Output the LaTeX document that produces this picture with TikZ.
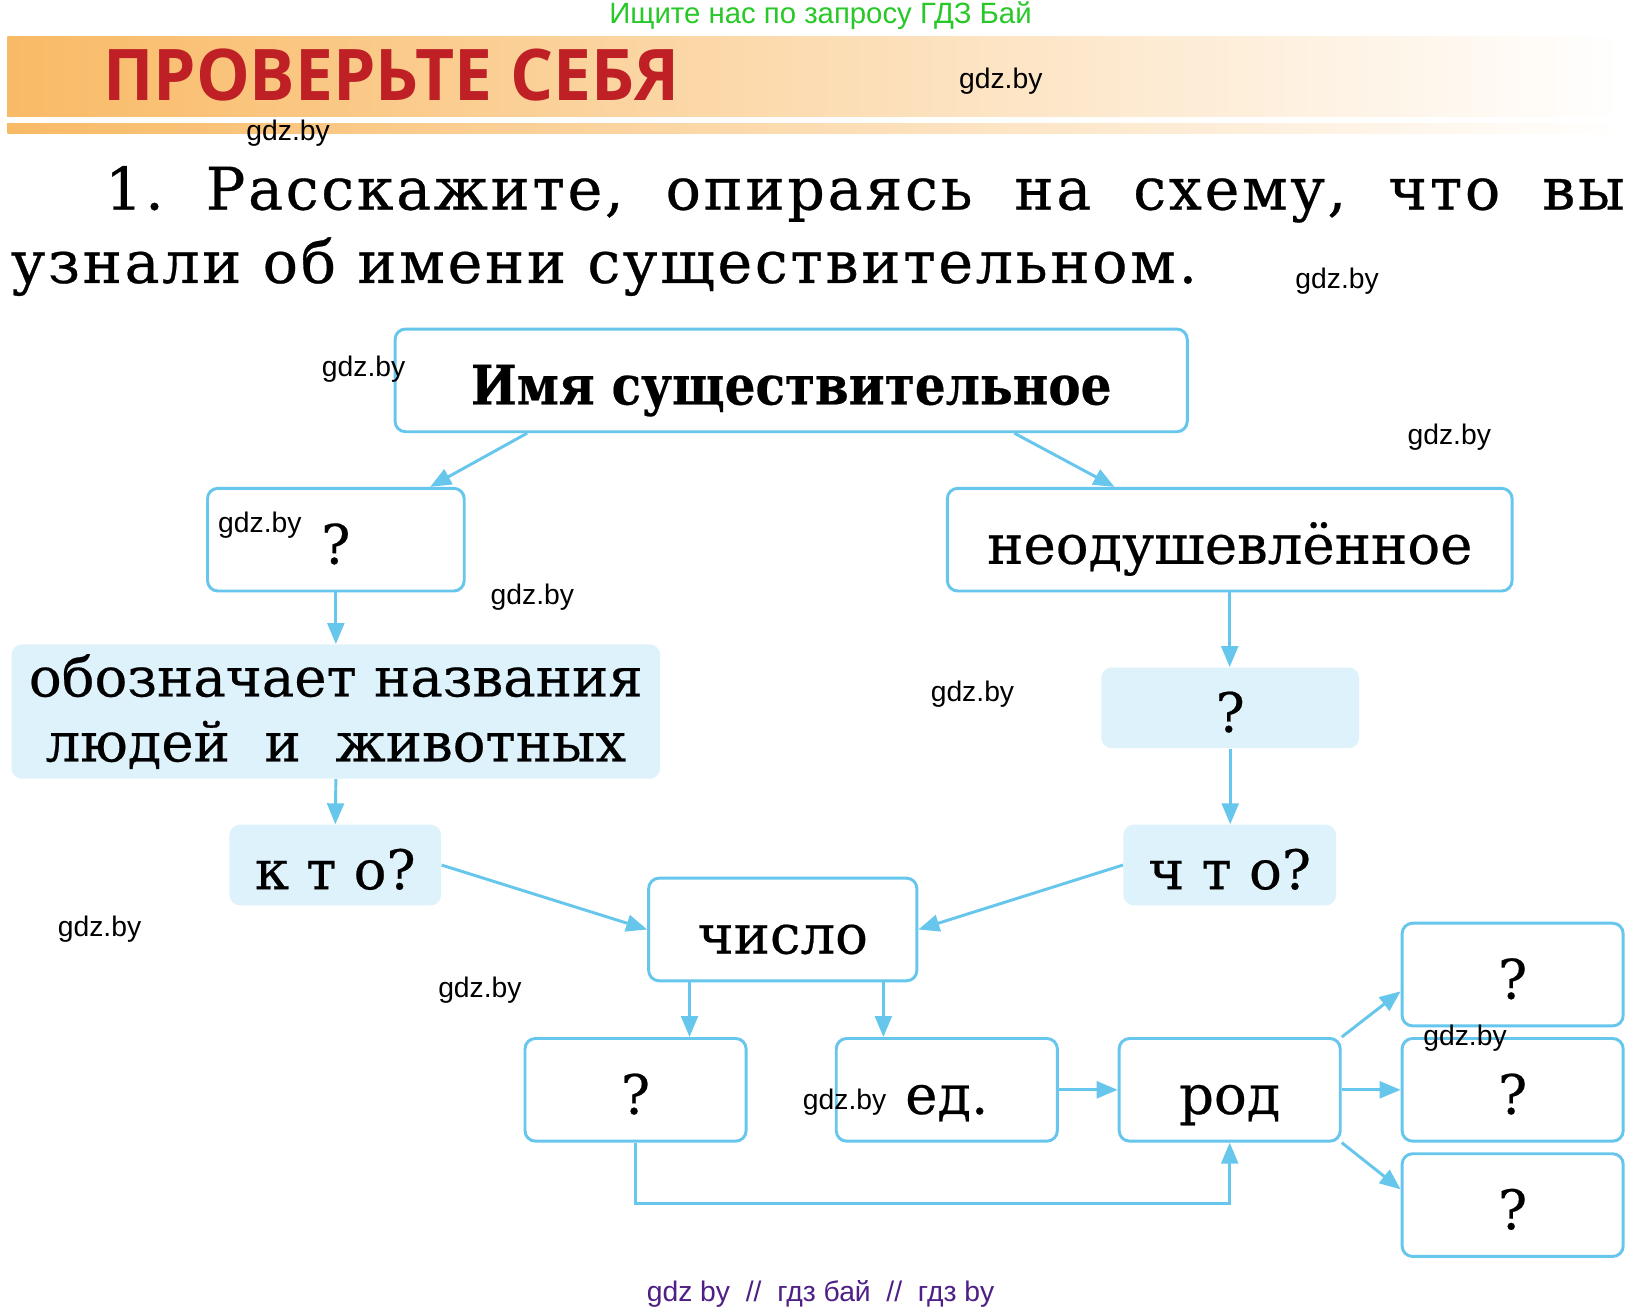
\documentclass[tikz,border=0pt]{standalone}
\usepackage{fontspec}
\usepackage{tikz}
\usetikzlibrary{arrows.meta}
\setmainfont{DejaVu Serif}
\newfontfamily\wmfont{Liberation Sans}
\newfontfamily\headfont{Open Sans}
\newfontfamily\titlefont[LetterSpace=4.6,FakeBold=0.5]{DejaVu Serif}
\newfontfamily\schemefont[FakeBold=0.4]{DejaVu Serif}
\definecolor{skyline}{RGB}{103,198,236}
\definecolor{skyfill}{RGB}{222,242,252}
\definecolor{banner}{RGB}{249,186,102}
\definecolor{headred}{RGB}{190,32,38}
\definecolor{searchgreen}{RGB}{40,200,40}
\definecolor{footviolet}{RGB}{78,31,133}
\frenchspacing

\begin{document}
\begin{tikzpicture}[x=0.5pt,y=-0.5pt]
\tikzstyle{emptybox}=[draw=skyline,line width=1.4pt,rounded corners=5pt,fill=white,inner sep=0pt,text height=24pt,text depth=1pt,font=\schemefont\fontsize{26}{31}\selectfont]
\tikzstyle{bluebox}=[fill=skyfill,rounded corners=5pt,inner sep=0pt,align=center,font=\schemefont\fontsize{26}{31}\selectfont]
\tikzstyle{oneline}=[text height=24pt,text depth=1pt]
\tikzstyle{arr}=[draw=skyline,line width=1.4pt,-{Triangle[length=10pt,width=8pt]}]
\tikzstyle{wm}=[inner sep=0pt,font=\wmfont\fontsize{13.5}{15}\selectfont]
\useasboundingbox[fill=white] (0,0) rectangle (1566,1252);

% header
\node[wm,text=searchgreen,font=\wmfont\fontsize{14}{15}\selectfont] (search) at (783,15) {Ищите нас по запросу ГДЗ Бай};
\fill[left color=banner,right color=white] (7,35) rectangle (1550,127);
\fill[white] (7,112) rectangle (1550,117);
\node[anchor=west,inner sep=0pt,text=headred,font=\headfont\bfseries\fontsize{34}{36}\selectfont] (head) at (98,72) {\scalebox{0.95}[1]{ПРОВЕРЬТЕ СЕБЯ}};
\node[anchor=base west,inner sep=0pt,font=\titlefont\fontsize{28}{34}\selectfont] (task1) at (100,200) {\hbox to 725pt{1. Расскажите, опираясь на схему, что вы}};
\node[anchor=base west,inner sep=0pt,font=\titlefont\fontsize{28}{34}\selectfont] (task2) at (10,270) {узнали об имени существительном.};

% scheme
\node[emptybox,minimum width=378pt,minimum height=49pt,font=\schemefont\bfseries\fontsize{26}{31}\selectfont] (noun) at (755,363) {\scalebox{0.89}[1]{Имя существительное}};
\node[emptybox,minimum width=122.5pt,minimum height=49pt] (anim) at (320.5,515) {?};
\node[emptybox,minimum width=269.5pt,minimum height=49pt] (inanim) at (1173.5,515) {неодушевлённое};
\node[bluebox,minimum width=309.5pt,minimum height=64pt] (means) at (320.5,679) {обозначает названия\\людей \ и \ животных};
\node[bluebox,oneline,minimum width=123pt,minimum height=38.5pt] (meansb) at (1174,675.5) {?};
\node[bluebox,oneline,minimum width=101pt,minimum height=38.5pt] (who) at (320,825.5) {к т о?};
\node[bluebox,oneline,minimum width=101.5pt,minimum height=38.5pt] (what) at (1173.5,825.5) {ч т о?};
\node[emptybox,minimum width=128pt,minimum height=49pt] (number) at (747,887) {число};
\node[emptybox,minimum width=105.5pt,minimum height=49pt] (plural) at (606.5,1040) {?};
\node[emptybox,minimum width=105.5pt,minimum height=49pt] (sing) at (903.5,1040) {ед.};
\node[emptybox,minimum width=105.5pt,minimum height=49pt] (gender) at (1173.5,1040) {род};
\node[emptybox,minimum width=105.5pt,minimum height=49pt] (gen1) at (1443.5,930) {?};
\node[emptybox,minimum width=105.5pt,minimum height=49pt] (gen2) at (1443.5,1040) {?};
\node[emptybox,minimum width=105.5pt,minimum height=49pt] (gen3) at (1443.5,1150) {?};

\draw[arr] ([xshift=-126pt]noun.south) -- ([xshift=45pt]anim.north);
\draw[arr] ([xshift=106.5pt]noun.south) -- ([xshift=-55pt]inanim.north);
\draw[arr] (anim.south) -- (anim.south |- means.north);
\draw[arr] (inanim.south) -- (inanim.south |- meansb.north);
\draw[arr] (means.south) -- (who.north);
\draw[arr] (meansb.south) -- (meansb.south |- what.north);
\draw[arr] (who.east) -- (number.west);
\draw[arr] (what.west) -- (number.east);
\draw[arr] ([xshift=-44.5pt]number.south) -- ([xshift=-44.5pt]number.south |- plural.north);
\draw[arr] ([xshift=48pt]number.south) -- ([xshift=48pt]number.south |- sing.north);
\draw[arr] (sing.east) -- (gender.west);
\draw[arr] (plural.south) -- ++(0,58) -| (gender.south);
\draw[arr] (gender.north east) -- ([yshift=-8pt]gen1.west);
\draw[arr] (gender.east) -- (gen2.west);
\draw[arr] (gender.south east) -- ([yshift=7.5pt]gen3.west);

% watermarks
\node[wm] (wm1) at (955,77) {gdz.by};
\node[wm] (wm2) at (275,127) {gdz.by};
\node[wm] (wm3) at (1276,268) {gdz.by};
\node[wm] (wm4) at (347,352) {gdz.by};
\node[wm] (wm5) at (1383,417) {gdz.by};
\node[wm] (wm6) at (248,501) {gdz.by};
\node[wm] (wm7) at (508,570) {gdz.by};
\node[wm] (wm8) at (928,662) {gdz.by};
\node[wm] (wm9) at (95,887) {gdz.by};
\node[wm] (wm10) at (458,945) {gdz.by};
\node[wm] (wm11) at (806,1052) {gdz.by};
\node[wm] (wm12) at (1398,991) {gdz.by};
\node[wm,text=footviolet] (foot) at (783,1235) {gdz by \ // \ гдз бай \ // \ гдз by};
\end{tikzpicture}
\end{document}
